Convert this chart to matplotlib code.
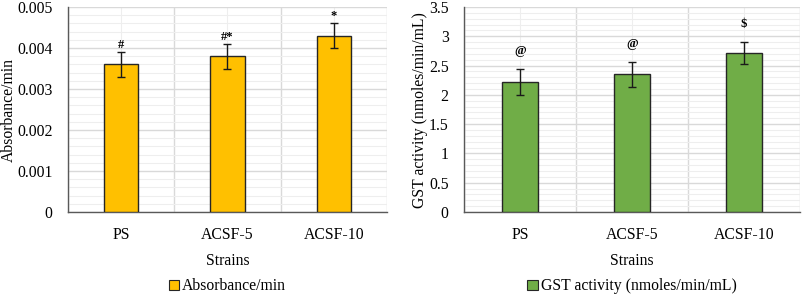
import matplotlib
matplotlib.use("Agg")
import matplotlib.pyplot as plt
from matplotlib.ticker import MultipleLocator, FixedLocator
from matplotlib.patches import Patch

plt.rcParams['font.family'] = ['Liberation Serif', 'DejaVu Serif']

categories = ["PS", "ACSF-5", "ACSF-10"]
absorb = [0.0036, 0.0038, 0.0043]
absorb_err = [0.0003, 0.0003, 0.0003]
absorb_marks = ["#", "#*", "*"]
gst = [2.22, 2.35, 2.72]
gst_err = [0.22, 0.21, 0.19]
gst_marks = ["@", "@", "$"]

FS = 11.3

fig = plt.figure(figsize=(8.03, 2.97), dpi=100)
ax1 = fig.add_axes([68/803, 1-212/297, (387-68)/803, (212-7)/297])
ax2 = fig.add_axes([464/803, 1-212/297, (800-464)/803, (212-7)/297])

def draw(ax, vals, errs, marks, color, ymax, major, minor, ylabel, legend_label, fmt, off, ylab_x):
    x = list(range(len(categories)))
    ax.bar(x, vals, width=0.32, color=color, edgecolor="#262626", linewidth=1.0, zorder=3)
    ax.errorbar(x, vals, yerr=errs, fmt="none", ecolor="#1a1a1a", elinewidth=1.0,
                capsize=3, capthick=1.0, zorder=4)
    for xi, v, e, m in zip(x, vals, errs, marks):
        ax.text(xi, v + e + off, m, ha="center", va="bottom", fontsize=9, fontweight="bold")
    ax.set_xlim(-0.5, len(categories) - 0.5)
    ax.set_ylim(0, ymax)
    ax.yaxis.set_major_locator(MultipleLocator(major))
    ax.yaxis.set_minor_locator(MultipleLocator(minor))
    ax.xaxis.set_major_locator(FixedLocator(x))
    ax.xaxis.set_minor_locator(FixedLocator([-0.5, 0.5, 1.5, 2.5]))
    ax.set_xticklabels(categories)
    ax.set_yticklabels([fmt(t) for t in ax.get_yticks()])
    ax.grid(which="major", axis="y", color="#d9d9d9", linewidth=1.0, zorder=0)
    ax.grid(which="minor", axis="y", color="#eeeeee", linewidth=0.8, zorder=0)
    ax.grid(which="major", axis="x", color="#eeeeee", linewidth=0.8, zorder=0)
    ax.grid(which="minor", axis="x", color="#d9d9d9", linewidth=1.0, zorder=0)
    ax.tick_params(which="both", length=0, labelsize=FS)
    ax.tick_params(axis="x", pad=11)
    ax.tick_params(axis="y", pad=11)
    for s in ["top", "right"]:
        ax.spines[s].set_visible(False)
    ax.spines["left"].set_color("#595959")
    ax.spines["bottom"].set_color("#595959")
    ax.spines["left"].set_linewidth(1.0)
    ax.spines["bottom"].set_linewidth(1.0)
    ax.set_xlabel("Strains", fontsize=FS, labelpad=7)
    fig.text(ylab_x / 803, 1 - 110 / 297, ylabel, rotation=90, ha="center", va="center",
             fontsize=FS)
    h = Patch(facecolor=color, edgecolor="#262626", linewidth=0.8)
    ax.legend([h], [legend_label], loc="upper center", bbox_to_anchor=(0.5, -0.255),
              frameon=False, fontsize=FS, handlelength=0.65, handleheight=0.65,
              handletextpad=0.2)

def fmt1(t):
    return "0" if abs(t) < 1e-12 else f"{t:.3f}"

def fmt2(t):
    if abs(t) < 1e-12:
        return "0"
    return f"{t:g}"

draw(ax1, absorb, absorb_err, absorb_marks, "#FFC000", 0.005, 0.001, 0.0002,
     "Absorbance/min", "Absorbance/min", fmt1, 0.00003, 9)
draw(ax2, gst, gst_err, gst_marks, "#70AD47", 3.5, 0.5, 0.1,
     "GST activity (nmoles/min/mL)", "GST activity (nmoles/min/mL)", fmt2, 0.2, 420)

fig.savefig("out.png", dpi=100)
